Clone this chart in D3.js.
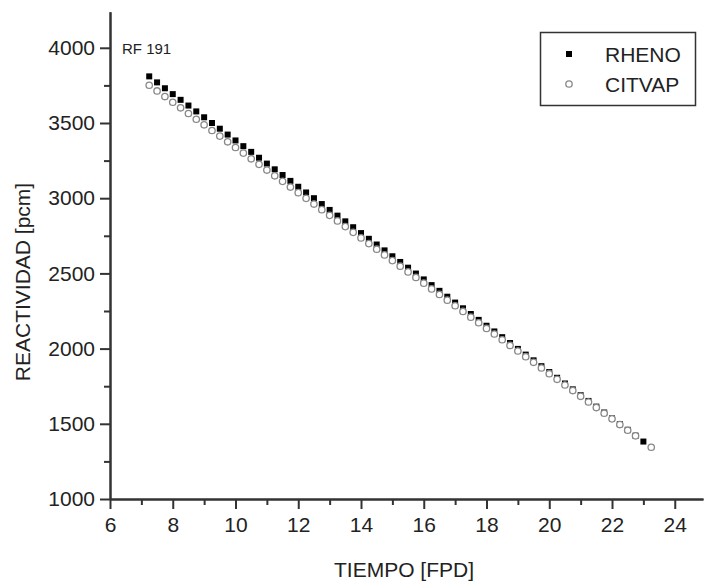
<!DOCTYPE html>
<html>
<head>
<meta charset="utf-8">
<script src="https://cdn.jsdelivr.net/npm/d3@7"></script>
<style>
  body { margin: 0; background: #fff; }
  svg text { font-family: "Liberation Sans", Arial, sans-serif; fill: #222; }
  .axis path, .axis line { stroke: #333; stroke-width: 2; }
  .axis text { font-size: 21px; }
</style>
</head>
<body>
<div id="chart"></div>
<script>
// Datos (tiempo en FPD, reactividad en pcm)
const tiempoRheno = [7.25, 7.5, 7.75, 8, 8.25, 8.5, 8.75, 9, 9.25, 9.5, 9.75, 10, 10.25, 10.5, 10.75, 11,
  11.25, 11.5, 11.75, 12, 12.25, 12.5, 12.75, 13, 13.25, 13.5, 13.75, 14, 14.25, 14.5, 14.75, 15,
  15.25, 15.5, 15.75, 16, 16.25, 16.5, 16.75, 17, 17.25, 17.5, 17.75, 18, 18.25, 18.5, 18.75, 19,
  19.25, 19.5, 19.75, 20, 20.25, 20.5, 20.75, 21, 21.25, 21.5, 21.75, 22, 22.25, 22.5, 22.75, 23];
const reactRheno = [3810, 3770, 3731, 3692, 3654, 3616, 3577, 3538, 3500, 3462, 3423, 3384, 3346, 3308, 3269, 3230,
  3192, 3154, 3115, 3076, 3038, 3000, 2961, 2922, 2884, 2846, 2807, 2768, 2730, 2692, 2653, 2614,
  2576, 2538, 2499, 2460, 2422, 2384, 2345, 2306, 2268, 2230, 2191, 2152, 2114, 2076, 2037, 1998,
  1960, 1922, 1883, 1844, 1806, 1768, 1729, 1690, 1652, 1614, 1575, 1536, 1498, 1460, 1421, 1382];

const tiempoCitvap = [7.25, 7.5, 7.75, 8, 8.25, 8.5, 8.75, 9, 9.25, 9.5, 9.75, 10, 10.25, 10.5, 10.75, 11,
  11.25, 11.5, 11.75, 12, 12.25, 12.5, 12.75, 13, 13.25, 13.5, 13.75, 14, 14.25, 14.5, 14.75, 15,
  15.25, 15.5, 15.75, 16, 16.25, 16.5, 16.75, 17, 17.25, 17.5, 17.75, 18, 18.25, 18.5, 18.75, 19,
  19.25, 19.5, 19.75, 20, 20.25, 20.5, 20.75, 21, 21.25, 21.5, 21.75, 22, 22.25, 22.5, 22.75, 23.25];
const reactCitvap = [3751, 3713, 3676, 3638, 3601, 3563, 3525, 3488, 3450, 3413, 3375, 3337, 3300, 3262, 3225, 3187,
  3149, 3112, 3074, 3037, 2999, 2961, 2924, 2886, 2849, 2811, 2773, 2736, 2698, 2661, 2623, 2585,
  2548, 2510, 2473, 2435, 2397, 2360, 2322, 2285, 2247, 2209, 2172, 2134, 2097, 2059, 2021, 1984,
  1946, 1909, 1871, 1833, 1796, 1758, 1721, 1683, 1645, 1608, 1570, 1533, 1495, 1457, 1420, 1344];

const xTicks = [6, 8, 10, 12, 14, 16, 18, 20, 22, 24];
const yTicks = [1000, 1500, 2000, 2500, 3000, 3500, 4000];

const width = 704;
const height = 585;

const svg = d3.select("#chart")
  .append("svg")
  .attr("width", width)
  .attr("height", height);

// Escalas
const x = d3.scaleLinear().domain([6, 24.9]).range([110, 703]);
const y = d3.scaleLinear().domain([1000, 4240]).range([499, 11.7]);

// Marcas menores
const xMinor = d3.range(7, 25, 2);
const yMinor = d3.range(1250, 4250, 500);

svg.append("g")
  .attr("class", "axis")
  .attr("transform", "translate(0,499)")
  .call(d3.axisBottom(x).tickValues(xMinor).tickSize(6).tickFormat("").tickSizeOuter(0));

svg.append("g")
  .attr("class", "axis")
  .attr("transform", "translate(110,0)")
  .call(d3.axisLeft(y).tickValues(yMinor).tickSize(6).tickFormat("").tickSizeOuter(0));

// Ejes principales
svg.append("g")
  .attr("class", "axis")
  .attr("transform", "translate(0,499)")
  .call(d3.axisBottom(x).tickValues(xTicks).tickSize(10).tickSizeOuter(0).tickPadding(8));

svg.append("g")
  .attr("class", "axis")
  .attr("transform", "translate(110,0)")
  .call(d3.axisLeft(y).tickValues(yTicks).tickFormat(d3.format("d")).tickSize(10).tickSizeOuter(0).tickPadding(5));

// Series: RHENO (cuadrados negros) y CITVAP (círculos blancos)
const rheno = tiempoRheno.map((t, i) => ({ t: t, r: reactRheno[i] }));
const citvap = tiempoCitvap.map((t, i) => ({ t: t, r: reactCitvap[i] }));

svg.selectAll(".rheno")
  .data(rheno)
  .enter()
  .append("rect")
  .attr("class", "rheno")
  .attr("x", d => x(d.t) - 3)
  .attr("y", d => y(d.r) - 3)
  .attr("width", 6)
  .attr("height", 6)
  .attr("fill", "#000");

svg.selectAll(".citvap")
  .data(citvap)
  .enter()
  .append("circle")
  .attr("class", "citvap")
  .attr("cx", d => x(d.t))
  .attr("cy", d => y(d.r))
  .attr("r", 3.2)
  .attr("fill", "#fff")
  .attr("stroke", "#888")
  .attr("stroke-width", 1.3);

// Etiquetas de los ejes
svg.append("text")
  .attr("x", 404)
  .attr("y", 577)
  .attr("text-anchor", "middle")
  .style("font-size", "21px")
  .text("TIEMPO [FPD]");

svg.append("text")
  .attr("transform", "translate(30,282) rotate(-90)")
  .attr("text-anchor", "middle")
  .style("font-size", "21px")
  .text("REACTIVIDAD [pcm]");

svg.append("text")
  .attr("x", 122)
  .attr("y", 54)
  .style("font-size", "15px")
  .text("RF 191");

// Leyenda
const legend = svg.append("g");
legend.append("rect")
  .attr("x", 540.5)
  .attr("y", 32.5)
  .attr("width", 155)
  .attr("height", 73)
  .attr("fill", "#fff")
  .attr("stroke", "#333")
  .attr("stroke-width", 1.5);

legend.append("rect")
  .attr("x", 566)
  .attr("y", 51)
  .attr("width", 6)
  .attr("height", 6)
  .attr("fill", "#000");

legend.append("circle")
  .attr("cx", 569)
  .attr("cy", 84)
  .attr("r", 3.2)
  .attr("fill", "#fff")
  .attr("stroke", "#888")
  .attr("stroke-width", 1.3);

legend.append("text")
  .attr("x", 605)
  .attr("y", 62)
  .style("font-size", "21px")
  .text("RHENO");

legend.append("text")
  .attr("x", 605)
  .attr("y", 92)
  .style("font-size", "21px")
  .text("CITVAP");
</script>
</body>
</html>
